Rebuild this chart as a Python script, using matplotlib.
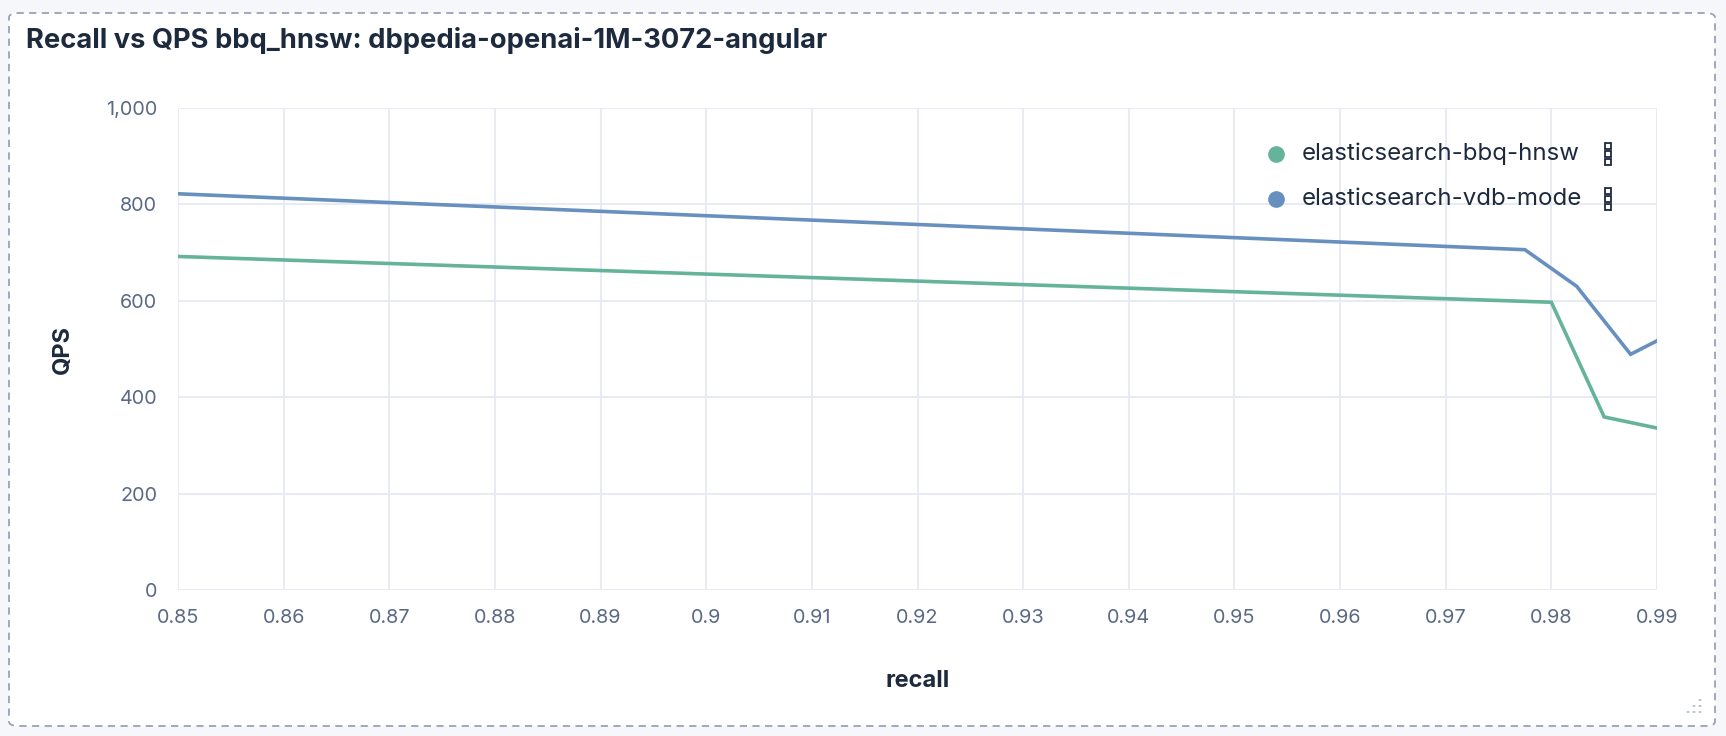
import matplotlib
matplotlib.use("Agg")
import matplotlib.pyplot as plt
from matplotlib.lines import Line2D
from matplotlib.patches import FancyBboxPatch, Rectangle, Circle
from matplotlib.ticker import FuncFormatter

plt.rcParams['font.family'] = ['Inter', 'DejaVu Sans']

# data
series_names = ["elasticsearch-bbq-hnsw", "elasticsearch-vdb-mode"]
bbq_recall = [0.85, 0.98, 0.985, 0.99]
bbq_qps = [692, 597, 359, 336]
vdb_recall = [0.85, 0.9775, 0.9824, 0.9875, 0.99]
vdb_qps = [822, 706, 630, 489, 517]
x_ticks = [0.85, 0.86, 0.87, 0.88, 0.89, 0.9, 0.91, 0.92, 0.93, 0.94, 0.95, 0.96, 0.97, 0.98, 0.99]
y_ticks = [0, 200, 400, 600, 800, 1000]

GREEN = "#65b39a"
BLUE = "#6890bf"
GRID = "#e8ebf3"
TICK = "#5a6984"
DARK = "#1d2a3e"

W, H = 1726, 736
fig = plt.figure(figsize=(W / 100, H / 100), dpi=100)
fig.patch.set_facecolor("#f6f7fb")

def fx(px):
    return px / W

def fy(py):
    return 1 - py / H

# panel with dashed border
panel = FancyBboxPatch((fx(9), fy(726)), fx(1715) - fx(9), fy(13) - fy(726),
                       boxstyle="round,pad=0,rounding_size=0.006",
                       transform=fig.transFigure, facecolor="white",
                       edgecolor="#98a2b8", linewidth=1.3, linestyle=(0, (4, 3)),
                       zorder=0)
fig.add_artist(panel)

fig.text(fx(26), fy(40), "Recall vs QPS bbq_hnsw: dbpedia-openai-1M-3072-angular",
         fontsize=19.7, fontweight="bold", color=DARK, va="center", ha="left")

ax = fig.add_axes([fx(178), fy(590), fx(1657) - fx(178), fy(108) - fy(590)])
ax.set_facecolor("white")

ax.plot(bbq_recall, bbq_qps, color=GREEN, lw=2.6, solid_joinstyle="miter", zorder=3)
ax.plot(vdb_recall, vdb_qps, color=BLUE, lw=2.6, solid_joinstyle="miter", zorder=3)

ax.set_xlim(0.85, 0.99)
ax.set_ylim(0, 1000)
ax.set_xticks(x_ticks)
ax.set_yticks(y_ticks)
ax.xaxis.set_major_formatter(FuncFormatter(lambda v, p: f"{v:g}"))
ax.yaxis.set_major_formatter(FuncFormatter(lambda v, p: f"{int(v):,}"))
ax.grid(True, color=GRID, lw=1.4, zorder=1)
ax.set_axisbelow(True)
for s in ax.spines.values():
    s.set_visible(False)
ax.tick_params(length=0, labelsize=14.3, labelcolor=TICK)
ax.tick_params(axis="x", pad=14)
ax.tick_params(axis="y", pad=15)

ax.set_xlabel("recall", fontsize=17, fontweight="bold", color=DARK)
ax.xaxis.set_label_coords(0.5, -(670 - 590) / (590 - 108))
ax.set_ylabel("QPS", fontsize=17, fontweight="bold", color=DARK)
ax.yaxis.set_label_coords(-(178 - 74) / (1657 - 178), 0.5)

# legend
colors = [GREEN, BLUE]
rows_y = [154, 199]
for name, c, ry in zip(series_names, colors, rows_y):
    fig.add_artist(Line2D([fx(1276)], [fy(ry)], marker="o", markersize=11,
                          color=c, transform=fig.transFigure, linestyle="none"))
    fig.text(fx(1302), fy(ry), name, fontsize=17.3, color=DARK, va="center", ha="left")
    for k in (-8, 0, 8):
        fig.add_artist(Rectangle((fx(1605), fy(ry + k + 3)), fx(6), 6 / H,
                                 transform=fig.transFigure, facecolor="white",
                                 edgecolor=DARK, linewidth=1.3))

# resize handle dots
for dx, dy in [(1700, 700), (1694, 706), (1700, 706), (1688, 712), (1694, 712), (1700, 712)]:
    fig.add_artist(Circle((fx(dx), fy(dy)), 1.6 / W, transform=fig.transFigure,
                          facecolor="#98a2b8", edgecolor="none"))

fig.savefig("out.png", dpi=100, facecolor=fig.get_facecolor())
